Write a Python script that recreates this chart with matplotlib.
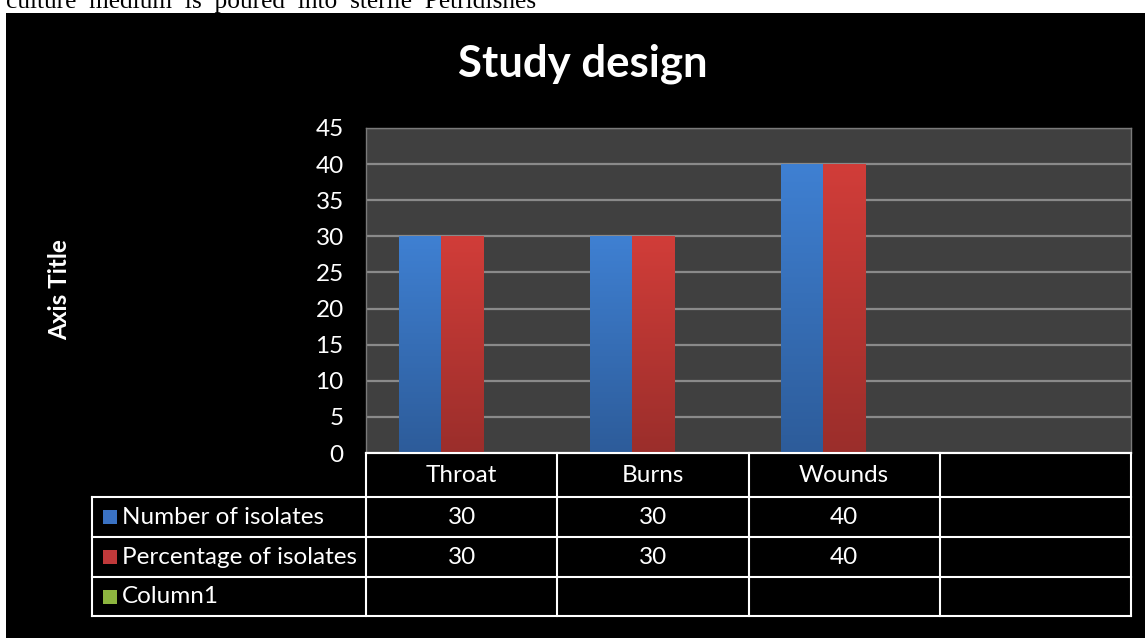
import numpy as np
import matplotlib.pyplot as plt
from matplotlib.patches import Rectangle
from matplotlib.colors import LinearSegmentedColormap

categories = ["Throat", "Burns", "Wounds", ""]
series_names = ["Number of isolates", "Percentage of isolates", "Column1"]
number_of_isolates = [30, 30, 40, None]
percentage_of_isolates = [30, 30, 40, None]
column1 = [None, None, None, None]
yticks = [0, 5, 10, 15, 20, 25, 30, 35, 40, 45]

W, H = 1145, 638
FONT = "Lato"
FS = 17.5

fig = plt.figure(figsize=(W / 100, H / 100), dpi=100, facecolor="black")

# white page strip above/left of the chart
fig.patches.append(Rectangle((0, 1 - 13 / H), 1, 13 / H, transform=fig.transFigure,
                             facecolor="white", edgecolor="none", zorder=-1))
fig.patches.append(Rectangle((0, 0), 6 / W, 1, transform=fig.transFigure,
                             facecolor="white", edgecolor="none", zorder=-1))
fig.text(6 / W, 1 - 8 / H, "culture  medium  is  poured  into  sterile  Petridishes",
         family="Liberation Serif", fontsize=18.3, color="black", va="baseline", ha="left")

# plot area in pixels: x 366..1131, y 128..453
left, right, top, bottom = 366, 1131, 128, 453
ax = fig.add_axes([left / W, 1 - bottom / H, (right - left) / W, (bottom - top) / H])
ax.set_facecolor("#404040")

x = np.arange(len(categories))
bw = 0.22
series = [number_of_isolates, percentage_of_isolates, column1]
offsets = [-bw, 0, bw]
grads = [("#3f80d2", "#2d5c9a"), ("#d13d39", "#9b2e2b"), ("#9bbb59", "#77933c")]
for vals, off, (c1, c2) in zip(series, offsets, grads):
    h = [v if v is not None else 0 for v in vals]
    bars = ax.bar(x + off, h, width=bw, color="none", edgecolor="none", zorder=3)
    cmap = LinearSegmentedColormap.from_list("g", [c2, c1])
    for b in bars:
        if b.get_height() <= 0:
            continue
        bx, bwid, bh = b.get_x(), b.get_width(), b.get_height()
        ax.imshow(np.linspace(1, 0, 100).reshape(-1, 1), cmap=cmap, aspect="auto",
                  extent=[bx, bx + bwid, 0, bh], zorder=3, interpolation="bilinear")

ax.set_xlim(-0.5, len(categories) - 0.5)
ax.set_ylim(0, 45)
ax.set_yticks(yticks)
ax.set_yticklabels([str(t) for t in yticks], family=FONT, fontsize=FS, color="white")
ax.set_xticks([])
ax.tick_params(axis="y", length=0, pad=16)
ax.grid(axis="y", color="#8a8a8a", linewidth=1.6, zorder=1)
for s in ["top", "right", "left"]:
    ax.spines[s].set_color("#7a7a7a")
    ax.spines[s].set_linewidth(1)
ax.spines["bottom"].set_color("white")
ax.spines["bottom"].set_linewidth(1.5)

fig.text(583 / W, 1 - 64 / H, "Study design", family=FONT, fontweight="bold",
         fontsize=31.5, color="white", ha="center", va="center")
fig.text(60 / W, 1 - 290 / H, "Axis Title", family=FONT, fontweight="bold",
         fontsize=17.5, color="white", ha="center", va="center", rotation=90)

# data table drawn in pixel space
ov = fig.add_axes([0, 0, 1, 1], facecolor="none")
ov.set_xlim(0, W)
ov.set_ylim(H, 0)
ov.axis("off")
lw = 1.5
col_w = (right - left) / len(categories)
col_edges = [left + i * col_w for i in range(len(categories) + 1)]
row_edges = [453, 497, 537, 577, 616]
tleft = 92
for xe in col_edges:
    ov.plot([xe, xe], [row_edges[0], row_edges[-1]], color="white", lw=lw)
ov.plot([tleft, tleft], [row_edges[1], row_edges[-1]], color="white", lw=lw)
for j, ye in enumerate(row_edges):
    x0 = left if j == 0 else tleft
    ov.plot([x0, right], [ye, ye], color="white", lw=lw)

for i, cat in enumerate(categories):
    cx = (col_edges[i] + col_edges[i + 1]) / 2
    ov.text(cx, (row_edges[0] + row_edges[1]) / 2 + 1, cat, family=FONT, fontsize=FS,
            color="white", ha="center", va="center")
    for r, vals in enumerate(series):
        v = vals[i]
        if v is not None:
            ov.text(cx, (row_edges[r + 1] + row_edges[r + 2]) / 2, str(v), family=FONT,
                    fontsize=FS, color="white", ha="center", va="center")

sq_cols = ["#3a72c4", "#c0393a", "#8db53f"]
for r, name in enumerate(series_names):
    cy = (row_edges[r + 1] + row_edges[r + 2]) / 2
    ov.add_patch(Rectangle((103, cy - 7), 14, 14, facecolor=sq_cols[r], edgecolor="none"))
    ov.text(122, cy, name, family=FONT, fontsize=FS, color="white", ha="left", va="center")

fig.savefig("out.png", dpi=100, facecolor="black")
